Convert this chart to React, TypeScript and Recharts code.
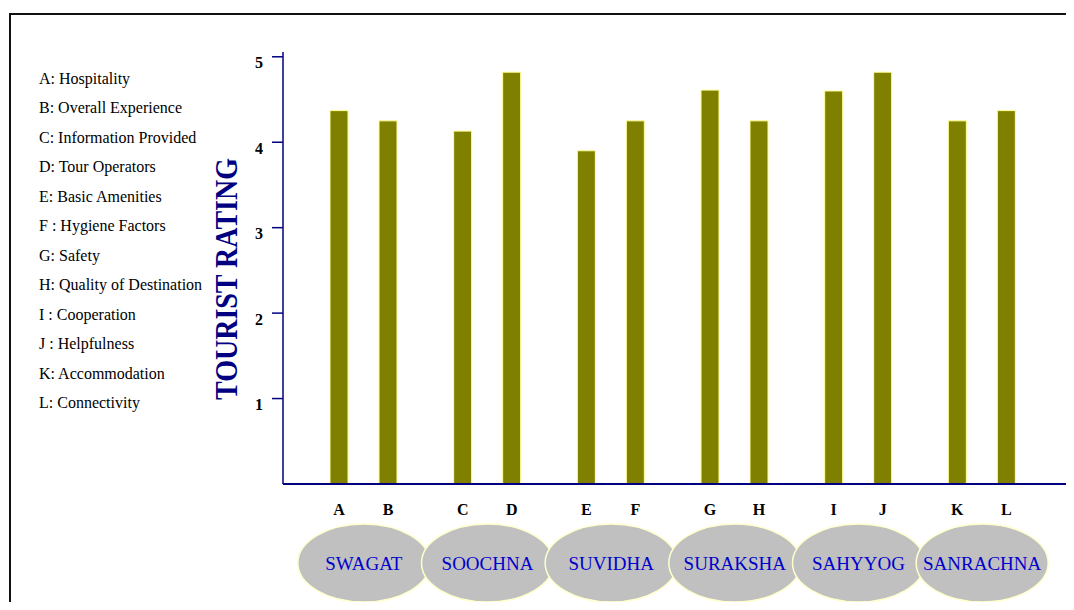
import React from 'react';
import { BarChart, Bar, XAxis, YAxis, LabelList } from 'recharts';

const groups = ['SWAGAT', 'SOOCHNA', 'SUVIDHA', 'SURAKSHA', 'SAHYYOG', 'SANRACHNA'];
const firstLetters = ['A', 'C', 'E', 'G', 'I', 'K'];
const secondLetters = ['B', 'D', 'F', 'H', 'J', 'L'];
const firstRatings = [4.37, 4.13, 3.9, 4.61, 4.6, 4.25];
const secondRatings = [4.25, 4.82, 4.25, 4.25, 4.82, 4.37];
const yTicks = [1, 2, 3, 4, 5];
const legendItems = [
  'A: Hospitality',
  'B: Overall Experience',
  'C: Information Provided',
  'D: Tour Operators',
  'E: Basic Amenities',
  'F : Hygiene Factors',
  'G: Safety',
  'H: Quality of Destination',
  'I : Cooperation',
  'J : Helpfulness',
  'K: Accommodation',
  'L: Connectivity',
];

const data = groups.map((g, i) => ({
  group: g,
  l1: firstLetters[i],
  l2: secondLetters[i],
  v1: firstRatings[i],
  v2: secondRatings[i],
}));

const SERIF = '"Liberation Serif", "Times New Roman", Times, serif';
const NAVY = '#000080';

const LetterLabel = (props: any) => {
  const { x, y, width, height, value } = props;
  return (
    <text
      x={Number(x) + Number(width) / 2}
      y={Number(y) + Number(height) + 25}
      textAnchor="middle"
      dominantBaseline="central"
      fontFamily={SERIF}
      fontWeight="bold"
      fontSize={16}
      fill="#000"
    >
      {value}
    </text>
  );
};

const EllipseTick = (props: any) => {
  const { x, y, payload } = props;
  const cy = Number(y) + 79;
  return (
    <g>
      <ellipse cx={x} cy={cy} rx={66} ry={39} fill="#c0c0c0" stroke="#ffffcc" strokeWidth={1.5} />
      <text
        x={x}
        y={cy}
        textAnchor="middle"
        dominantBaseline="central"
        fontFamily={SERIF}
        fontSize={19}
        fill="#0000cc"
      >
        {payload.value}
      </text>
    </g>
  );
};

const RatingTick = (props: any) => {
  const { x, y, payload } = props;
  return (
    <text
      x={x}
      y={Number(y) + 6}
      textAnchor="end"
      dominantBaseline="central"
      fontFamily={SERIF}
      fontWeight="bold"
      fontSize={16}
      fill="#000"
    >
      {payload.value}
    </text>
  );
};

const YTitle = () => {
  const bx = 237;
  const by = 279;
  return (
    <text
      x={bx}
      y={by}
      transform={`rotate(-90, ${bx}, ${by})`}
      textAnchor="middle"
      fontFamily={SERIF}
      fontWeight="bold"
      fontSize={31}
      fill={NAVY}
      textLength={242}
      lengthAdjust="spacingAndGlyphs"
    >
      TOURIST RATING
    </text>
  );
};

export default function App() {
  return (
    <div style={{ position: 'relative', width: 1074, height: 610, margin: -8, overflow: 'hidden' }}>
      <div
        style={{
          position: 'absolute',
          left: 9,
          top: 13,
          width: 1065,
          height: 597,
          borderLeft: '2px solid #111',
          borderTop: '2px solid #111',
          boxSizing: 'border-box',
        }}
      />
      {legendItems.map((t, i) => (
        <div
          key={t}
          style={{
            position: 'absolute',
            left: 39,
            top: 79 + i * 29.48 - 10,
            height: 20,
            lineHeight: '20px',
            whiteSpace: 'nowrap',
            fontFamily: SERIF,
            fontSize: 16,
            color: '#000',
          }}
        >
          {t}
        </div>
      ))}
      <div style={{ position: 'absolute', left: 0, top: 0 }}>
        <BarChart
          width={1074}
          height={610}
          data={data}
          margin={{ top: 52, right: 4, bottom: 96, left: 0 }}
          barSize={18}
          barGap={31}
        >
          <XAxis
            dataKey="group"
            height={30}
            interval={0}
            padding={{ left: 19, right: 26 }}
            axisLine={{ stroke: NAVY, strokeWidth: 2 }}
            tickLine={false}
            tickSize={0}
            tickMargin={0}
            tick={<EllipseTick />}
          />
          <YAxis
            width={283}
            domain={[0, 5.056]}
            ticks={yTicks}
            allowDataOverflow
            axisLine={{ stroke: NAVY, strokeWidth: 1.5 }}
            tickLine={{ stroke: NAVY, strokeWidth: 1.5 }}
            tickSize={11}
            tickMargin={9}
            tick={<RatingTick />}
            label={<YTitle />}
          />
          <Bar dataKey="v1" fill="#808000" stroke="#ffff99" strokeWidth={1} isAnimationActive={false}>
            <LabelList dataKey="l1" content={<LetterLabel />} />
          </Bar>
          <Bar dataKey="v2" fill="#808000" stroke="#ffff99" strokeWidth={1} isAnimationActive={false}>
            <LabelList dataKey="l2" content={<LetterLabel />} />
          </Bar>
        </BarChart>
      </div>
    </div>
  );
}
